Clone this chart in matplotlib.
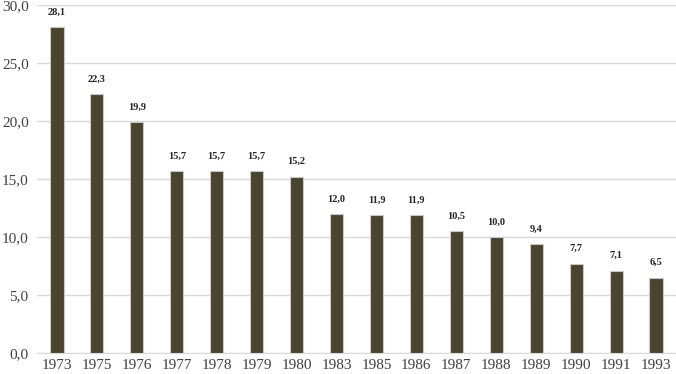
import numpy as np
import matplotlib.pyplot as plt

anos = ['1973', '1975', '1976', '1977', '1978', '1979', '1980', '1983',
        '1985', '1986', '1987', '1988', '1989', '1990', '1991', '1993']
valores = [28.1, 22.3, 19.9, 15.7, 15.7, 15.7, 15.2, 12.0,
           11.9, 11.9, 10.5, 10.0, 9.4, 7.7, 7.1, 6.5]
ticks_y = [0, 5, 10, 15, 20, 25, 30]

plt.rcParams['font.family'] = ['Liberation Serif', 'DejaVu Serif']

fig = plt.figure(figsize=(6.76, 3.74), dpi=100)
ax = fig.add_axes([0.0547, 0.0561, 0.9453, 0.9305])

x = np.arange(len(anos))
barras = ax.bar(x, valores, width=0.33, color='#4a432e', edgecolor='#c8c8c8',
                linewidth=0.8, zorder=3)

for xi, v in zip(x, valores):
    ax.text(xi, v + 0.9, f'{v:.1f}'.replace('.', ','), ha='center', va='bottom',
            fontsize=7.5, fontweight='bold', color='#262626')

ax.set_xlim(-0.5, len(anos) - 0.5)
ax.set_ylim(0, 30)
ax.set_yticks(ticks_y)
ax.set_yticklabels([f'{t:.1f}'.replace('.', ',') for t in ticks_y])
ax.set_xticks(x)
ax.set_xticklabels(anos)
ax.tick_params(axis='both', length=0, labelsize=11, colors='#404040')
ax.tick_params(axis='y', pad=6)
ax.tick_params(axis='x', pad=4)

ax.grid(axis='y', color='#d9d9d9', linewidth=1, zorder=0)
for s in ['top', 'right', 'left']:
    ax.spines[s].set_visible(False)
ax.spines['bottom'].set_color('#d9d9d9')

fig.savefig('out.png', dpi=100)
